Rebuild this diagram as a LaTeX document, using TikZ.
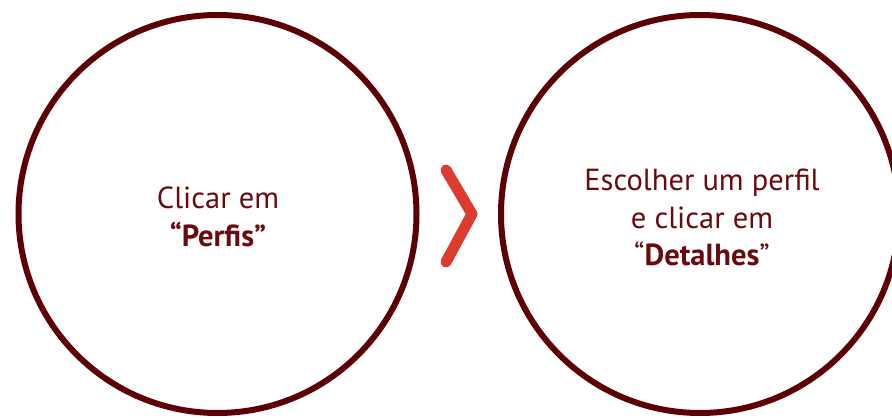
\documentclass[tikz,border=0pt]{standalone}
\usepackage{fontspec}
\setmainfont{PT Sans}
\definecolor{ringcol}{HTML}{5C0004}
\definecolor{textcol}{HTML}{6A0A0E}
\definecolor{chevcol}{HTML}{DC3B2E}
\begin{document}
\begin{tikzpicture}[x=1pt,y=-1pt,
  ring/.style={circle,draw=ringcol,line width=6pt,minimum size=398pt,inner sep=0pt},
  caption/.style={text=textcol,align=center,font=\fontsize{30.5}{37.5}\selectfont},
  chevron/.style={draw=chevcol,line width=11pt,line cap=round,line join=round}]
  \useasboundingbox (0,0) rectangle (892,419);
  % the two step rings
  \node[ring] (stepA) at (217.5,214) {};
  \node[ring] (stepB) at (700,214) {};
  % captions
  \node[caption] (capA) at (218,217) {Clicar em\\\textbf{“Perfis”}};
  \node[caption] (capB) at (702,217.5) {Escolher um perfil\\e clicar em\\“\textbf{Detalhes}”};
  % chevron between the rings
  \coordinate (chevTop) at (446,170);
  \coordinate (chevTip) at (472,214);
  \coordinate (chevBot) at (446,262);
  \draw[chevron] (chevTop) -- (chevTip) -- (chevBot);
\end{tikzpicture}
\end{document}
